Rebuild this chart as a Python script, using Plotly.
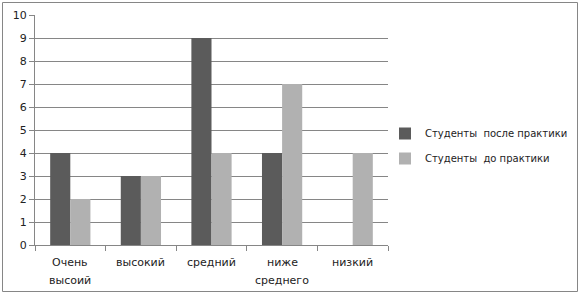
import plotly.graph_objects as go

categories = ["Очень высоий", "высокий", "средний", "ниже среднего", "низкий"]
label_lines = [["Очень", "высоий"], ["высокий"], ["средний"], ["ниже", "среднего"], ["низкий"]]
after_practice = [4, 3, 9, 4, 0]
before_practice = [2, 3, 4, 7, 4]
series_names = ["Студенты  после практики", "Студенты  до практики"]
y_ticks = list(range(0, 11))

fig = go.Figure()
fig.add_trace(go.Bar(x=categories, y=after_practice, name=series_names[0], legendgroup="a",
                     marker=dict(color="#5b5b5b", line=dict(width=0))))
fig.add_trace(go.Bar(x=categories, y=before_practice, name=series_names[1], legendgroup="b",
                     marker=dict(color="#b1b1b1", line=dict(width=0))))

W, H = 580, 294
L, R, T, B = 35, 192, 15, 49
pw, ph = W - L - R, H - T - B

def px(x):
    return (x - L) / pw

def py(y):
    return (H - B - y) / ph

annotations = []
for cat, lines in zip(categories, label_lines):
    for i, line in enumerate(lines):
        annotations.append(dict(x=cat, xref="x", y=py(262 + 18 * i), yref="paper",
                                text=line, showarrow=False, xanchor="center", yanchor="middle",
                                font=dict(size=11, color="#222222")))

fig.update_layout(
    width=W, height=H,
    margin=dict(l=L, r=R, t=T, b=B, autoexpand=False),
    paper_bgcolor="white", plot_bgcolor="white",
    barmode="group", bargap=0.43, bargroupgap=0,
    font=dict(family="DejaVu Sans", size=10, color="#222222"),
    showlegend=True,
    legend=dict(x=px(385), y=py(146), xanchor="left", yanchor="middle",
                font=dict(size=10, color="#222222"), tracegroupgap=6,
                itemsizing="constant", itemwidth=30,
                bgcolor="rgba(0,0,0,0)"),
    xaxis=dict(showgrid=False, showline=True, linecolor="#868686", linewidth=1,
               ticks="outside", tickson="boundaries", ticklen=5, tickcolor="#868686",
               showticklabels=False),
    yaxis=dict(range=[0, 10], tickvals=y_ticks, showgrid=True, gridcolor="#868686",
               gridwidth=1, showline=True, linecolor="#868686", linewidth=1,
               ticks="outside", ticklen=5, tickcolor="#868686", zeroline=False,
               tickfont=dict(size=11)),
    annotations=annotations,
    shapes=[dict(type="rect", xref="paper", yref="paper",
                 x0=px(2.5), x1=px(577.5), y0=py(291.5), y1=py(2.5),
                 line=dict(color="#868686", width=1), layer="below")],
)

fig.write_html("out.html", config={"displayModeBar": False},
               post_script="document.body.style.margin='0';document.body.style.overflow='hidden';")
